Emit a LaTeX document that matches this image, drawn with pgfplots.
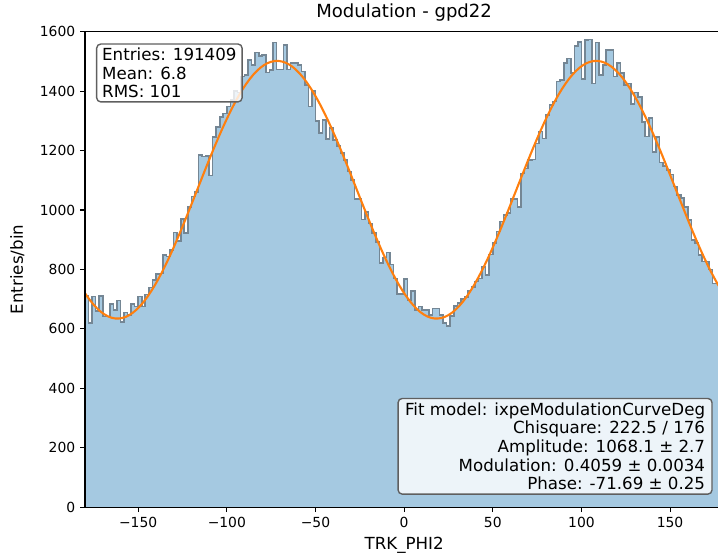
\documentclass[border=0pt]{standalone}
\usepackage{pgfplots}
\pgfplotsset{compat=1.18}
\usepackage{pgfplotstable}
\usepackage{fontspec}
\setmainfont{DejaVu Sans}
\definecolor{histfill}{RGB}{165,201,225}
\definecolor{histedge}{RGB}{116,134,148}
\definecolor{fitorange}{RGB}{255,127,14}
\definecolor{boxedge}{RGB}{95,95,95}

\pgfplotstableread{
x y
-180 712
-178 619
-176 709
-174 660
-172 711
-170 641
-168 641
-166 683
-164 664
-162 695
-160 624
-158 655
-156 647
-154 683
-152 675
-150 709
-148 675
-146 715
-144 739
-142 765
-140 784
-138 786
-136 849
-134 843
-132 866
-130 924
-128 896
-126 970
-124 922
-122 1011
-120 1045
-118 1060
-116 1185
-114 1180
-112 1182
-110 1116
-108 1245
-106 1280
-104 1312
-102 1325
-100 1348
-98 1370
-96 1400
-94 1395
-92 1449
-90 1454
-88 1505
-86 1488
-84 1530
-82 1518
-80 1522
-78 1462
-76 1470
-74 1563
-72 1473
-70 1473
-68 1555
-66 1473
-64 1494
-62 1494
-60 1488
-58 1466
-56 1420
-54 1348
-52 1400
-50 1300
-48 1260
-46 1303
-44 1238
-42 1275
-40 1236
-38 1215
-36 1191
-34 1168
-32 1129
-30 1100
-28 1036
-26 1036
-24 968
-22 994
-20 955
-18 922
-16 893
-14 821
-12 840
-10 857
-8 817
-6 770
-4 718
-2 717
0 767
2 697
4 727
6 664
8 675
10 664
12 664
14 647
16 669
18 669
20 647
22 619
24 610
26 644
28 677
30 688
32 700
34 708
36 729
38 740
40 759
42 770
44 809
46 781
48 850
50 888
52 927
54 961
56 983
58 990
60 1036
62 1036
64 1010
66 1123
68 1140
70 1168
72 1170
74 1224
76 1264
78 1241
80 1320
82 1353
84 1365
86 1432
88 1437
90 1494
92 1510
94 1460
96 1552
98 1566
100 1440
102 1572
104 1574
106 1426
108 1563
110 1454
112 1488
114 1538
116 1538
118 1449
120 1494
122 1460
124 1421
126 1426
128 1357
130 1395
132 1380
134 1297
136 1247
138 1309
140 1196
142 1245
144 1160
146 1148
148 1135
150 1120
152 1079
154 1051
156 1040
158 1010
160 966
162 899
164 888
166 849
168 826
170 826
172 800
174 753
176 753
178 760
180 760
}\histdata

\pgfplotstableread{
x y
-180 720.1
-179 711.3
-177 695.0
-175 680.5
-173 667.9
-171 657.2
-169 648.6
-167 642.0
-165 637.5
-163 635.0
-161 634.7
-159 636.5
-157 640.4
-155 646.3
-153 654.4
-151 664.4
-149 676.4
-147 690.3
-145 706.1
-143 723.7
-141 742.7
-139 763.6
-137 785.8
-135 809.5
-133 834.4
-131 860.4
-129 887.5
-127 915.5
-125 944.1
-123 973.4
-121 1003.1
-119 1033.2
-117 1063.4
-115 1093.7
-113 1123.8
-111 1153.6
-109 1183.1
-107 1212.0
-105 1240.1
-103 1267.5
-101 1293.8
-99 1319.1
-97 1343.2
-95 1365.9
-93 1387.2
-91 1406.9
-89 1424.9
-87 1441.2
-85 1455.7
-83 1468.3
-81 1479.0
-79 1487.6
-77 1494.2
-75 1498.7
-73 1501.2
-71 1501.5
-69 1499.7
-67 1495.8
-65 1489.9
-63 1481.8
-61 1471.8
-59 1459.8
-57 1445.9
-55 1430.1
-53 1412.5
-51 1393.5
-49 1372.6
-47 1350.4
-45 1326.7
-43 1301.8
-41 1275.8
-39 1248.7
-37 1220.7
-35 1192.1
-33 1162.8
-31 1133.1
-29 1103.0
-27 1072.8
-25 1042.5
-23 1012.4
-21 982.6
-19 953.1
-17 924.2
-15 896.1
-13 868.7
-11 842.4
-9 817.1
-7 793.0
-5 770.3
-3 749.0
-1 729.3
1 711.3
3 695.0
5 680.5
7 667.9
9 657.2
11 648.6
13 642.0
15 637.5
17 635.0
19 634.7
21 636.5
23 640.4
25 646.3
27 654.4
29 664.4
31 676.4
33 690.3
35 706.1
37 723.7
39 742.7
41 763.6
43 785.8
45 809.5
47 834.4
49 860.4
51 887.5
53 915.5
55 944.1
57 973.4
59 1003.1
61 1033.2
63 1063.4
65 1093.7
67 1123.8
69 1153.6
71 1183.1
73 1212.0
75 1240.1
77 1267.5
79 1293.8
81 1319.1
83 1343.2
85 1365.9
87 1387.2
89 1406.9
91 1424.9
93 1441.2
95 1455.7
97 1468.3
99 1479.0
101 1487.6
103 1494.2
105 1498.7
107 1501.2
109 1501.5
111 1499.7
113 1495.8
115 1489.9
117 1481.8
119 1471.8
121 1459.8
123 1445.9
125 1430.1
127 1412.5
129 1393.5
131 1372.6
133 1350.4
135 1326.7
137 1301.8
139 1275.8
141 1248.7
143 1220.7
145 1192.1
147 1162.8
149 1133.1
151 1103.0
153 1072.8
155 1042.5
157 1012.4
159 982.6
161 953.1
163 924.2
165 896.1
167 868.7
169 842.4
171 817.1
173 793.0
175 770.3
177 749.0
179 729.3
180 720.1
}\fitdata

\begin{document}
\begin{tikzpicture}
\begin{axis}[
  scale only axis,
  width=459.6pt, height=342.4pt,
  xmin=-180, xmax=180,
  ymin=0, ymax=1600,
  xtick={-150,-100,-50,0,50,100,150},
  xticklabels={−150,−100,−50,0,50,100,150},
  ytick={0,200,400,600,800,1000,1200,1400,1600},
  /pgf/number format/assume math mode=true,
  /pgf/number format/1000 sep={},
  tick pos=left,
  tick align=outside,
  major tick length=3.5pt,
  every tick/.style={black, line width=0.8pt},
  axis line style={black, line width=0.8pt},
  tick label style={font=\fontsize{10}{12}\selectfont},
  every axis y label/.style={at={(rel axis cs:0,0.5)}, rotate=90, anchor=center, yshift=48.8pt, font=\fontsize{12}{14}\selectfont},
  xlabel style={font=\fontsize{12}{14}\selectfont},
  title style={font=\fontsize{13}{15}\selectfont, at={(0.5,1)}, anchor=base, yshift=4pt, inner sep=0pt},
  title={Modulation - gpd22},
  xlabel={TRK\_PHI2},
  ylabel={Entries/bin},
  axis on top,
  clip=true,
]
\addplot[const plot, fill=histfill, draw=none] table[x=x,y=y] {\histdata} \closedcycle;
\addplot[const plot, draw=histedge, line width=1.15pt] table[x=x,y=y] {\histdata};
\addplot[fitorange, line width=1.5pt, line join=round] table[x=x,y=y] {\fitdata};
\node[anchor=north west, draw=boxedge, line width=1pt, rounded corners=3pt,
      fill=white, fill opacity=0.8, text opacity=1,
      inner xsep=4pt, inner ysep=3pt, align=left,
      font=\fontsize{12}{13.2}\selectfont, xshift=7.9pt, yshift=-8.4pt]
  at (rel axis cs:0,1) {Entries: 191409\\Mean: 6.8\\RMS: 101};
\node[anchor=south east, draw=boxedge, line width=1pt, rounded corners=3pt,
      fill=white, fill opacity=0.8, text opacity=1,
      inner xsep=5pt, inner ysep=3pt, align=right,
      font=\fontsize{12}{13.4}\selectfont, xshift=-7.6pt, yshift=8.9pt]
  at (rel axis cs:1,0) {Fit model: ixpeModulationCurveDeg\\Chisquare: 222.5 / 176\\Amplitude: 1068.1 ± 2.7\\Modulation: 0.4059 ± 0.0034\\Phase: -71.69 ± 0.25};
\end{axis}
\pgfresetboundingbox
\path[use as bounding box] ([xshift=-61.2pt,yshift=-35.8pt]current axis.south west) rectangle ([xshift=455.8pt,yshift=22.8pt]current axis.north west);
\end{tikzpicture}
\end{document}
